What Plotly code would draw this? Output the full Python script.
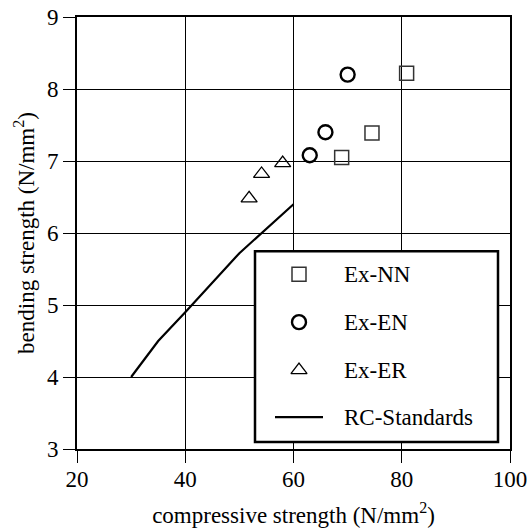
import plotly.graph_objects as go

# Data
nn_x = [68.9, 74.5, 80.9]
nn_y = [7.05, 7.39, 8.22]
en_x = [63.0, 65.9, 70.0]
en_y = [7.08, 7.40, 8.20]
er_x = [51.8, 54.1, 58.0]
er_y = [6.48, 6.82, 6.97]
rc_x = [30, 35, 40, 50, 60]
rc_y = [4.0, 4.5, 4.9, 5.72, 6.4]

x_ticks = [20, 40, 60, 80, 100]
y_ticks = [3, 4, 5, 6, 7, 8, 9]
legend_names = ["Ex-NN", "Ex-EN", "Ex-ER", "RC-Standards"]

FONT = "Liberation Serif, DejaVu Serif, serif"
FS = 23

W, H = 527, 531
L, R, T, B = 77, 17, 16.5, 82
X_RANGE = [20, 100]
Y_RANGE = [3, 9]

styles = [
    dict(mode="markers", marker=dict(symbol="square-open", size=14, color="#333333", line=dict(width=1.5))),
    dict(mode="markers", marker=dict(symbol="circle-open", size=14, color="black", line=dict(width=2.4))),
    dict(mode="markers", marker=dict(symbol="triangle-up-open", size=14, color="black", line=dict(width=1.3))),
    dict(mode="lines", line=dict(color="black", width=2.2)),
]

fig = go.Figure()
for (xs, ys), name, st in zip([(nn_x, nn_y), (en_x, en_y), (er_x, er_y), (rc_x, rc_y)],
                              legend_names, styles):
    fig.add_trace(go.Scatter(x=xs, y=ys, name=name, showlegend=False, **st))

# ---- hand-drawn legend (pixel positions on overlay axes) ----
leg_box = dict(x0=255, x1=498, y0=251, y1=442)
leg_sym_x = 299
leg_txt_x = 342
leg_rows = [274, 322, 370, 417]
leg_line_half = 24

def pix2data_x(p):
    return X_RANGE[0] + (p - L) / (W - L - R) * (X_RANGE[1] - X_RANGE[0])

def pix2data_y(p):
    return Y_RANGE[0] + (H - B - p) / (H - B - T) * (Y_RANGE[1] - Y_RANGE[0])

fig.add_shape(type="rect", xref="x", yref="y",
              x0=pix2data_x(leg_box["x0"]), x1=pix2data_x(leg_box["x1"]),
              y0=pix2data_y(leg_box["y1"]), y1=pix2data_y(leg_box["y0"]),
              line=dict(color="black", width=2.5), fillcolor="white", layer="between")
for name, st, yy in zip(legend_names, styles, leg_rows):
    if st["mode"] == "lines":
        fig.add_trace(go.Scatter(x=[leg_sym_x - leg_line_half, leg_sym_x + leg_line_half], y=[yy, yy],
                                 xaxis="x2", yaxis="y2", showlegend=False, hoverinfo="skip", **st))
    else:
        fig.add_trace(go.Scatter(x=[leg_sym_x], y=[yy], xaxis="x2", yaxis="y2",
                                 showlegend=False, hoverinfo="skip", **st))
    fig.add_annotation(x=leg_txt_x, y=yy, xref="x2", yref="y2", text=name, showarrow=False,
                       xanchor="left", yanchor="middle",
                       font=dict(family=FONT, size=FS, color="black"))

axis_common = dict(showline=True, linecolor="black", linewidth=2, mirror=True,
                   showgrid=True, gridcolor="black", gridwidth=1,
                   ticks="outside", ticklen=12, tickwidth=1, tickcolor="black",
                   zeroline=False, automargin=False, ticklabeloverflow="allow",
                   tickfont=dict(family=FONT, size=FS, color="black"))

fig.update_layout(
    xaxis=dict(range=X_RANGE, tickvals=x_ticks, ticktext=[str(v) for v in x_ticks],
               ticklabelstandoff=-4,
               title=dict(text="compressive strength (N/mm<sup>2</sup>)",
                          font=dict(family=FONT, size=FS, color="black"), standoff=16),
               **axis_common),
    yaxis=dict(range=Y_RANGE, tickvals=y_ticks, ticktext=[str(v) for v in y_ticks],
               title=dict(text="bending strength (N/mm<sup>2</sup>)",
                          font=dict(family=FONT, size=FS, color="black"), standoff=6),
               **axis_common),
    xaxis2=dict(range=[L, W - R], overlaying="x", visible=False, showgrid=False,
                zeroline=False, anchor="y2", fixedrange=True),
    yaxis2=dict(range=[H - B, T], overlaying="y", visible=False, showgrid=False,
                zeroline=False, anchor="x2", fixedrange=True),
    width=W, height=H,
    margin=dict(l=L, r=R, t=T, b=B, pad=0, autoexpand=False),
    paper_bgcolor="white", plot_bgcolor="white",
    font=dict(family=FONT, size=FS, color="black"),
    showlegend=False,
)

fig.write_html("out.html")
